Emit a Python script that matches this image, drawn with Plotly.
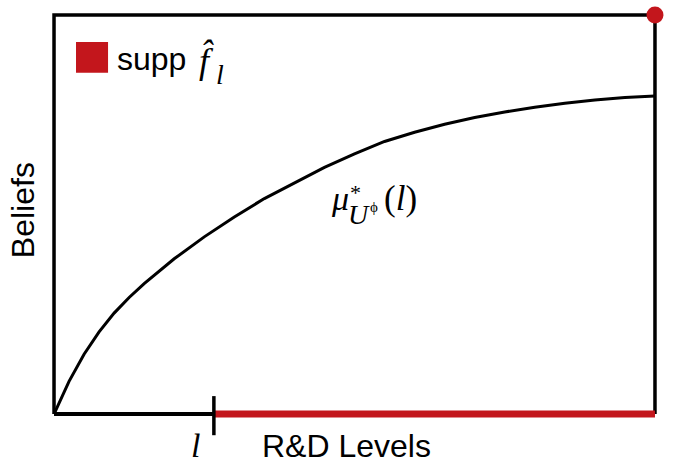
import plotly.graph_objects as go

# Curve data (normalized R&D level vs belief)
levels = [0.0, 0.025, 0.05, 0.075, 0.10, 0.125, 0.15, 0.175, 0.20, 0.25, 0.30, 0.35, 0.40, 0.45,
          0.50, 0.55, 0.60, 0.65, 0.70, 0.75, 0.80, 0.85, 0.90, 0.95, 1.0]
beliefs = [0.0, 0.082, 0.150, 0.206, 0.253, 0.292, 0.327, 0.359, 0.389, 0.444, 0.494, 0.540, 0.580, 0.618,
           0.652, 0.683, 0.706, 0.726, 0.743, 0.757, 0.769, 0.779, 0.787, 0.793, 0.797]
l_level = 0.266           # position of tick "l"
support = [l_level, 1.0]  # support of f-hat
dot = [1.0, 1.0]          # red dot at top right

RED = "#C3161C"
BLACK = "#000000"

# axis ranges (padded so the frame lines are not clipped)
X0, X1 = -0.02, 1.02
Y0, Y1 = -0.06, 1.03


def px(d):
    return (d - X0) / (X1 - X0)


def py(d):
    return (d - Y0) / (Y1 - Y0)


fig = go.Figure()

# frame left / top / right
fig.add_trace(go.Scatter(x=[0, 0, 1, 1], y=[0, 1, 1, 0], mode="lines",
                         line=dict(color=BLACK, width=3.5), hoverinfo="skip", showlegend=False))
# bottom black segment
fig.add_trace(go.Scatter(x=[0, l_level], y=[0, 0], mode="lines",
                         line=dict(color=BLACK, width=4), hoverinfo="skip", showlegend=False))
# curve
fig.add_trace(go.Scatter(x=levels, y=beliefs, mode="lines",
                         line=dict(color=BLACK, width=3, shape="linear"),
                         hoverinfo="skip", showlegend=False))
# support in red
fig.add_trace(go.Scatter(x=support, y=[0, 0], mode="lines",
                         line=dict(color=RED, width=7), hoverinfo="skip", showlegend=False))
# tick at l
fig.add_trace(go.Scatter(x=[l_level, l_level], y=[0.045, -0.053], mode="lines",
                         line=dict(color=BLACK, width=3.5), hoverinfo="skip", showlegend=False))
# red dot
fig.add_trace(go.Scatter(x=[dot[0]], y=[dot[1]], mode="markers",
                         marker=dict(color=RED, size=17, line=dict(width=0)),
                         hoverinfo="skip", showlegend=False))

for tr in fig.data:
    tr.cliponaxis = False

# legend square
fig.add_shape(type="rect", xref="x", yref="y", x0=0.0366, x1=0.0899, y0=0.855, y1=0.932,
              fillcolor=RED, line=dict(width=0))

sans = "Liberation Sans, Arial, Helvetica, sans-serif"
serif = "Liberation Serif, Times New Roman, serif"

ann = [
    dict(x=0.1015, y=0.890, text="supp", font=dict(family=sans, size=32), xanchor="left"),
    dict(x=0.253, y=0.887, text="<i>f̂</i>", font=dict(family=serif, size=36)),
    dict(x=0.276, y=0.850, text="<i>l</i>", font=dict(family=serif, size=28)),
    # curve label  mu*_{U^phi}(l)
    dict(x=0.476, y=0.541, text="<i>μ</i>", font=dict(family=serif, size=34)),
    dict(x=0.502, y=0.556, text="*", font=dict(family=serif, size=22)),
    dict(x=0.5075, y=0.5005, text="<i>U</i>", font=dict(family=serif, size=28)),
    dict(x=0.533, y=0.519, text="ϕ", font=dict(family=serif, size=15)),
    dict(x=0.576, y=0.541, text="(<i>l</i>)", font=dict(family=serif, size=35)),
    # axis labels
    dict(x=0.2346, y=-0.078, text="<i>l</i>", font=dict(family=serif, size=34)),
    dict(x=0.486, y=-0.080, text="R&D Levels", font=dict(family=sans, size=32)),
    dict(x=-0.0516, y=0.511, text="Beliefs", textangle=-90, font=dict(family=sans, size=32)),
]
for a in ann:
    a.setdefault("xanchor", "center")
    a["x"] = px(a["x"])
    a["y"] = py(a["y"])
    a.update(xref="paper", yref="paper", showarrow=False, yanchor="middle")
    a["font"]["color"] = BLACK
fig.update_layout(annotations=ann)

fig.update_layout(
    width=674, height=470,
    margin=dict(l=42, r=7, t=3, b=32, pad=0),
    paper_bgcolor="white", plot_bgcolor="white",
    xaxis=dict(range=[X0, X1], visible=False, fixedrange=True),
    yaxis=dict(range=[Y0, Y1], visible=False, fixedrange=True),
    showlegend=False,
)

fig.write_html("out.html", config={"displayModeBar": False, "staticPlot": True},
               post_script="document.body.style.margin='0';")
